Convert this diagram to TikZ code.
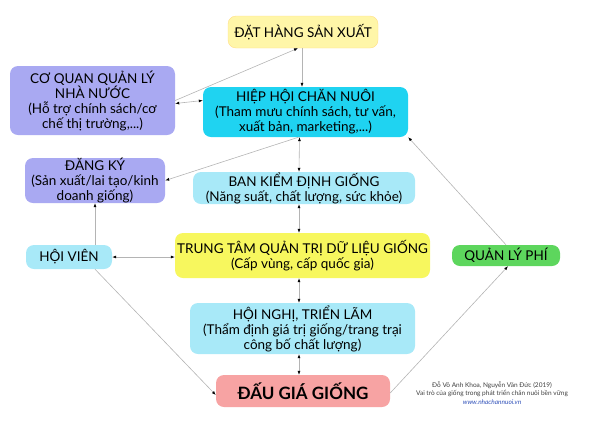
\documentclass[tikz,border=0pt]{standalone}
\usepackage{fontspec}
\setmainfont{Lato}
\usepackage{tikz}
\usetikzlibrary{arrows.meta}

\definecolor{paleyellow}{HTML}{FFF6A8}
\definecolor{lavender}{HTML}{A9A9F2}
\definecolor{cyanbox}{HTML}{1FD3F1}
\definecolor{paleblue}{HTML}{A8E9F8}
\definecolor{yellowbox}{HTML}{F7F75E}
\definecolor{greenbox}{HTML}{5DD65D}
\definecolor{pinkbox}{HTML}{F7A3A3}
\definecolor{linkgray}{HTML}{B4B4B4}
\definecolor{urlblue}{HTML}{2E4FB8}

\begin{document}
\begin{tikzpicture}[x=1pt, y=-1pt, >={Latex[length=4pt,width=3pt]},
    box/.style={rounded corners=8pt, inner sep=0pt, align=center,
        font=\fontsize{13.5}{15}\selectfont},
    link/.style={draw=linkgray, line width=0.6pt, -{Latex[length=4pt,width=3pt,color=black]}},
    twoway/.style={draw=linkgray, line width=0.6pt,
        {Latex[length=4pt,width=3pt,color=black]}-{Latex[length=4pt,width=3pt,color=black]}}]
    \useasboundingbox (0,0) rectangle (600,424);

    % boxes, top to bottom
    \node[box, fill=paleyellow, draw=paleyellow!80!orange, minimum width=150, minimum height=32]
        (dathang) at (303,32) {ĐẶT HÀNG SẢN XUẤT};
    \node[box, fill=lavender, minimum width=165, minimum height=69]
        (coquan) at (92.5,100.5) {CƠ QUAN QUẢN LÝ\\NHÀ NƯỚC\\(Hỗ trợ chính sách/cơ\\chế thị trường,...)};
    \node[box, fill=cyanbox, minimum width=205, minimum height=50]
        (hiephoi) at (305.5,112) {HIỆP HỘI CHĂN NUÔI\\(Tham mưu chính sách, tư vấn,\\xuất bản, marketing,...)};
    \node[box, fill=lavender, minimum width=140, minimum height=45]
        (dangky) at (95,180.5) {ĐĂNG KÝ\\(Sản xuất/lai tạo/kinh\\doanh giống)};
    \node[box, fill=paleblue, minimum width=222, minimum height=32]
        (kiemdinh) at (304,188) {BAN KIỂM ĐỊNH GIỐNG\\(Năng suất, chất lượng, sức khỏe)};
    \node[box, fill=paleblue, minimum width=86, minimum height=24]
        (hoivien) at (69,257) {HỘI VIÊN};
    \node[box, fill=yellowbox, minimum width=255, minimum height=45]
        (trungtam) at (302.5,255.5) {TRUNG TÂM QUẢN TRỊ DỮ LIỆU GIỐNG\\(Cấp vùng, cấp quốc gia)};
    \node[box, fill=greenbox, minimum width=108, minimum height=21]
        (quanlyphi) at (506,255.5) {QUẢN LÝ PHÍ};
    \node[box, fill=paleblue, minimum width=225, minimum height=51]
        (hoinghi) at (302.5,328.5) {HỘI NGHỊ, TRIỂN LÃM\\(Thẩm định giá trị giống/trang trại\\công bố chất lượng)};
    \node[box, fill=pinkbox, minimum width=174, minimum height=32, font=\fontsize{17}{19}\selectfont\bfseries]
        (daugia) at (303,391) {ĐẤU GIÁ GIỐNG};

    \node[align=center, inner sep=0pt, text=black!75, font=\fontsize{6.5}{8.5}\selectfont]
        (nguon) at (492,393) {Đỗ Võ Anh Khoa, Nguyễn Văn Đức (2019)\\Vai trò của giống trong phát triển chăn nuôi bền vững\\\textcolor{urlblue}{\itshape www.nhachannuoi.vn}};

    % connectors
    \draw[link] ([xshift=-1pt]dathang.south) -- ([xshift=-3.5pt]hiephoi.north);
    \draw[link] (coquan.east) -- ([xshift=-5pt]dathang.south);
    \draw[twoway] ([yshift=-3pt]coquan.east) -- (coquan.east -| hiephoi.west);
    \draw[twoway] ([xshift=-6pt]hiephoi.south) -- ([xshift=-5pt]kiemdinh.north);
    \draw[link] ([xshift=-7pt]hiephoi.south) -- (dangky.east);
    \draw[twoway] ([xshift=-5pt]kiemdinh.south) -- ([xshift=-3.5pt]trungtam.north);
    \draw[twoway] ([xshift=-3.5pt]trungtam.south) -- ([xshift=-3.5pt]hoinghi.north);
    \draw[twoway] ([xshift=-3.5pt]hoinghi.south) -- ([xshift=-4pt]daugia.north);
    \draw[link] ([xshift=26pt]hoivien.north) -- ([xshift=0pt]dangky.south);
    \draw[twoway] (hoivien.east) -- (hoivien.east -| trungtam.west);
    \draw[link] ([xshift=26pt]hoivien.south) -- ([yshift=-4pt]daugia.west);
    \draw[link] ([yshift=-2pt]daugia.east) -- ([xshift=2pt]quanlyphi.south);
    \draw[link] (quanlyphi.north) -- (hiephoi.south east);
\end{tikzpicture}
\end{document}
